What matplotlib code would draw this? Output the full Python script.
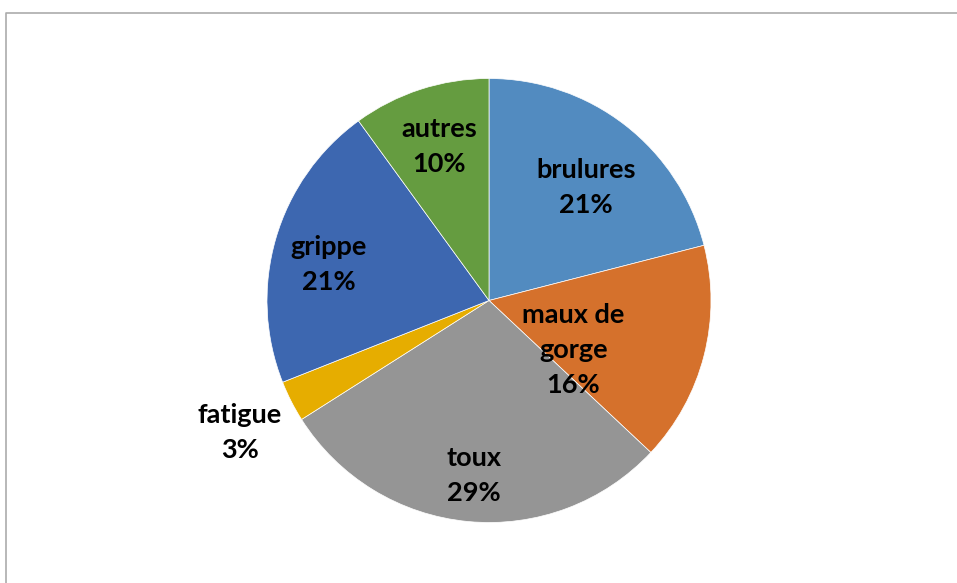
import numpy as np
import matplotlib.pyplot as plt
from matplotlib.lines import Line2D

# data
labels = ["brulures", "maux de\ngorge", "toux", "fatigue", "grippe", "autres"]
values = [21, 16, 29, 3, 21, 10]
colors = ["#528BC0", "#D5712C", "#959595", "#E6AD00", "#3D67B0", "#659C40"]

# label placement (radius, angle shift in degrees) - style only
label_r = [0.67, 0.44, 0.79, 1.27, 0.74, 0.73]
label_shift = [-3, -16, 0.5, 1, 3.5, 0]

W, H = 957, 583
fig = plt.figure(figsize=(W / 100, H / 100), dpi=100)

cx, cy, R = 489, 300.5, 222
ax = fig.add_axes([(cx - R) / W, (H - cy - R) / H, 2 * R / W, 2 * R / H])

wedges, _ = ax.pie(values, colors=colors, startangle=90, counterclock=False,
                   radius=1, wedgeprops=dict(edgecolor="white", linewidth=0.5))
ax.set_xlim(-1, 1)
ax.set_ylim(-1, 1)
ax.set_aspect("equal")
ax.axis("off")

total = float(sum(values))
for w, lab, v, r, s in zip(wedges, labels, values, label_r, label_shift):
    mid = np.deg2rad((w.theta1 + w.theta2) / 2 + s)
    ax.text(r * np.cos(mid), r * np.sin(mid), "{}\n{:.0f}%".format(lab, 100 * v / total),
            ha="center", va="center", fontsize=19.5, fontweight="bold",
            family=["Lato", "DejaVu Sans"], linespacing=1.55, color="black")

# outer frame of the chart area
x0 = 5.5 / W
y0 = 1 - 12.5 / H
fig.add_artist(Line2D([x0, x0, 1.01], [-0.01, y0, y0], transform=fig.transFigure,
                      color="#ABABAB", linewidth=1.2))

fig.savefig("out.png", dpi=100)
